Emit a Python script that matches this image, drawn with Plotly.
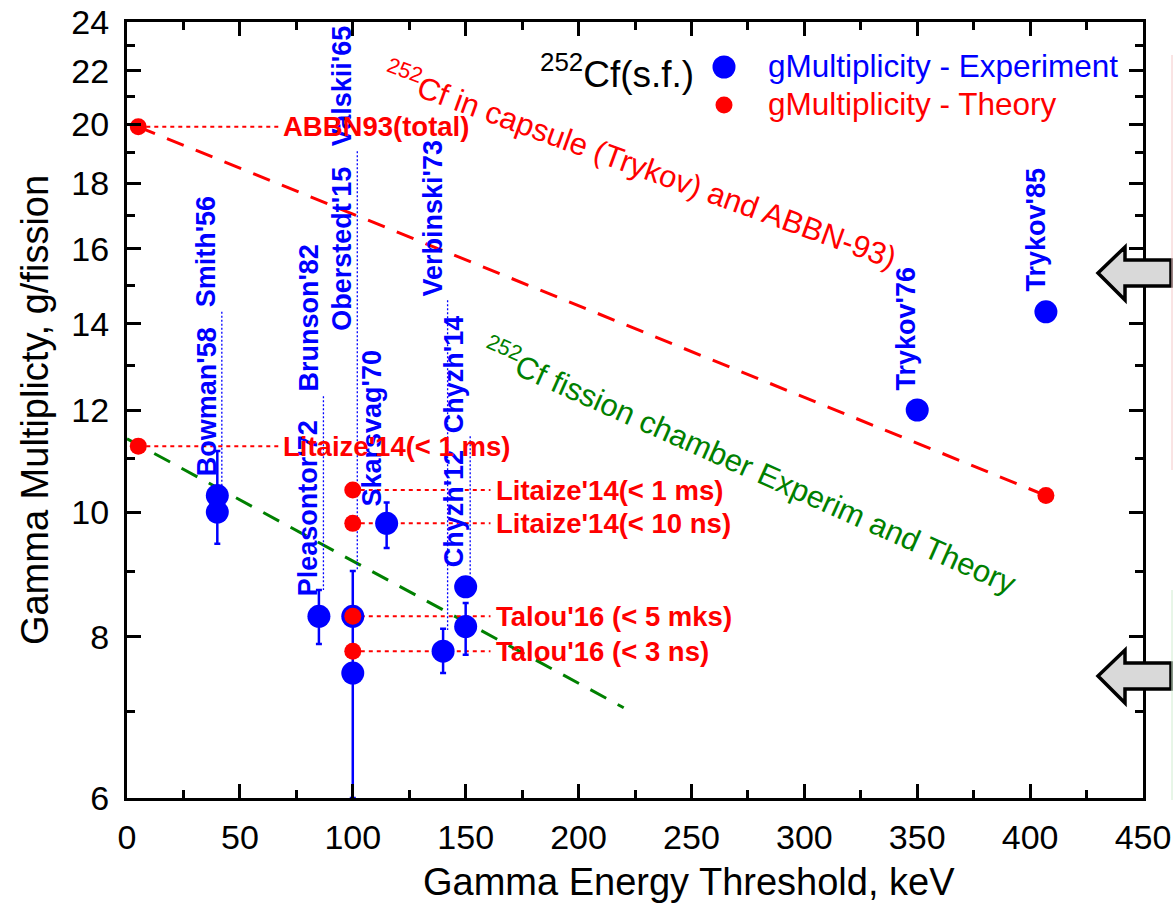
import math
import plotly.graph_objects as go

# ---------------- data ----------------
exp_x = [40, 40, 85, 100, 100, 115, 140, 150, 150, 350, 407]
exp_y = [10.3, 10.0, 8.3, 8.3, 7.5, 9.8, 7.8, 8.75, 8.15, 12.0, 14.3]
exp_err_plus = [0.85, 0, 0.4, 0, 1.5, 0.37, 0.32, 0, 0.35, 0, 0]
exp_err_minus = [0.85, 0, 0.4, 0, 1.5, 0.42, 0.30, 0, 0.40, 0, 0]

th_x = [5, 5, 100, 100, 100, 100, 407]
th_y = [19.9, 11.25, 10.4, 9.8, 8.3, 7.8, 10.3]

# trend lines
capsule_x = [5, 407]
capsule_y = [19.9, 10.3]
chamber_x = [0, 220]
chamber_y = [11.4, 7.05]

# leader lines (blue dotted) from labels to points
lead_x = [42, 87, 102, 142, 152]
lead_top = [14.3, 12.3, 19.05, 14.6, 11.45]
lead_bot = [10.3, 8.7, 9.0, 8.1, 8.9]

# red dotted connectors from theory points to their labels
conn_x0 = [5, 5, 100, 100, 100, 100]
conn_x1 = [67, 67, 161, 161, 161, 161]
conn_y = [19.9, 11.25, 10.4, 9.8, 8.3, 7.8]

# blue experiment labels: text, x, bottom value
exp_labels = ["Bowman'58", "Smith'56", "Pleasontor'72", "Brunson'82", "Oberstedt'15",
              "Valskii'65", "Skarsvag'70", "Verbinski'73", "Chyzh'12", "Chyzh'14",
              "Trykov'76", "Trykov'85"]
exp_label_x = [35.4, 35.4, 80.2, 80.2, 95.2, 95.2, 108.5, 135.5, 144.8, 144.8, 345, 402.6]
exp_label_y = [10.65, 14.4, 8.59, 12.37, 13.8, 19.2, 10.09, 14.68, 9.05, 11.5, 12.4, 14.8]

# red theory labels: text, x (left), y (center)
th_labels = ["ABBN93(total)", "Litaize'14(< 1 ms)", "Litaize'14(< 1 ms)",
             "Litaize'14(< 10 ns)", "Talou'16 (< 5 mks)", "Talou'16 (< 3 ns)"]
th_label_x = [68.6, 68.6, 163, 163, 163, 163]
th_label_y = [19.9, 11.25, 10.4, 9.8, 8.3, 7.8]

x_ticks = [0, 50, 100, 150, 200, 250, 300, 350, 400, 450]
x_minor = [25, 75, 125, 175, 225, 275, 325, 375, 425]
y_ticks = [6, 8, 10, 12, 14, 16, 18, 20, 22, 24]
y_minor = [7, 9, 11, 13, 15, 17, 19, 21, 23]

FONT = "Liberation Sans, Arial, sans-serif"
BLUE = "#0000ff"
RED = "#ff0000"
GREEN = "#008000"

# plot-area geometry in pixels (for decorations)
W, H = 1173, 904
ML, MR, MT, MB = 127, 30, 22, 106
PW, PH = W - ML - MR, H - MT - MB


def px(xp):
    return (xp - ML) / PW


def py(yp):
    return (H - MB - yp) / PH


fig = go.Figure()

# trend lines
fig.add_trace(go.Scatter(x=chamber_x, y=chamber_y, mode="lines",
                         line=dict(color=GREEN, width=3, dash="18px,13px"),
                         hoverinfo="skip", showlegend=False))
fig.add_trace(go.Scatter(x=capsule_x, y=capsule_y, mode="lines",
                         line=dict(color=RED, width=3, dash="18px,13px"),
                         hoverinfo="skip", showlegend=False))

# leader lines
lx, ly = [], []
for x, a, b in zip(lead_x, lead_top, lead_bot):
    lx += [x, x, None]
    ly += [a, b, None]
fig.add_trace(go.Scatter(x=lx, y=ly, mode="lines",
                         line=dict(color=BLUE, width=1.3, dash="2px,2px"),
                         hoverinfo="skip", showlegend=False))

cx, cy = [], []
for a, b, y in zip(conn_x0, conn_x1, conn_y):
    cx += [a, b, None]
    cy += [y, y, None]
fig.add_trace(go.Scatter(x=cx, y=cy, mode="lines",
                         line=dict(color=RED, width=2, dash="4px,4px"),
                         hoverinfo="skip", showlegend=False))

# experiment
fig.add_trace(go.Scatter(
    x=exp_x, y=exp_y, mode="markers",
    marker=dict(color=BLUE, size=23, line=dict(width=0)),
    error_y=dict(type="data", symmetric=False, array=exp_err_plus,
                 arrayminus=exp_err_minus, color=BLUE, thickness=2.5, width=3),
    name="gMultiplicity - Experiment", showlegend=False))

# theory
fig.add_trace(go.Scatter(
    x=th_x, y=th_y, mode="markers",
    marker=dict(color=RED, size=17, line=dict(width=0)),
    name="gMultiplicity - Theory", showlegend=False))

ann = []
for t, x, y in zip(exp_labels, exp_label_x, exp_label_y):
    ann.append(dict(text=f"<b>{t}</b>", x=x, y=math.log10(y), xref="x", yref="y",
                    textangle=-90, xanchor="center", yanchor="bottom",
                    showarrow=False, font=dict(family=FONT, size=27, color=BLUE),
                    borderpad=0))
for t, x, y in zip(th_labels, th_label_x, th_label_y):
    ann.append(dict(text=f"<b>{t}</b>", x=x, y=math.log10(y), xref="x", yref="y",
                    xanchor="left", yanchor="middle", showarrow=False,
                    font=dict(family=FONT, size=27.5, color=RED), borderpad=0))

ann.append(dict(text="<sup>252</sup>Cf in capsule (Trykov) and ABBN-93)",
                x=227.6, y=math.log10(18.62), xref="x", yref="y", textangle=20,
                showarrow=False, font=dict(family=FONT, size=31, color=RED)))
ann.append(dict(text="<sup>252</sup>Cf fission chamber Experim and Theory",
                x=276, y=math.log10(10.88), xref="x", yref="y", textangle=24,
                showarrow=False, font=dict(family=FONT, size=31, color=GREEN)))

# title-ish label and manual legend
ann.append(dict(text="<sup>252</sup>Cf(s.f.)", x=px(617), y=py(71), xref="paper", yref="paper",
                xanchor="center", yanchor="middle", showarrow=False,
                font=dict(family=FONT, size=37, color="black")))
ann.append(dict(text="gMultiplicity - Experiment", x=px(766), y=py(66), xref="paper",
                yref="paper", xanchor="left", yanchor="middle", showarrow=False,
                font=dict(family=FONT, size=31.5, color=BLUE)))
ann.append(dict(text="gMultiplicity - Theory", x=px(766), y=py(104), xref="paper",
                yref="paper", xanchor="left", yanchor="middle", showarrow=False,
                font=dict(family=FONT, size=31.5, color=RED)))

# x-axis title (offset to the right of the plot centre, as in the original)
ann.append(dict(text="Gamma Energy Threshold, keV", x=px(689), y=py(882),
                xref="paper", yref="paper", xanchor="center", yanchor="middle",
                showarrow=False, font=dict(family=FONT, size=38, color="black")))

shapes = []
# legend symbols
shapes.append(dict(type="circle", xref="paper", yref="paper", xsizemode="pixel",
                   ysizemode="pixel", xanchor=px(724), yanchor=py(67),
                   x0=-11.5, x1=11.5, y0=-11.5, y1=11.5,
                   fillcolor=BLUE, line=dict(width=0)))
shapes.append(dict(type="circle", xref="paper", yref="paper", xsizemode="pixel",
                   ysizemode="pixel", xanchor=px(724), yanchor=py(105),
                   x0=-8.5, x1=8.5, y0=-8.5, y1=8.5,
                   fillcolor=RED, line=dict(width=0)))


def arrow(yc):
    pts = [(1098, yc), (1125, yc - 26), (1125, yc - 13), (1171, yc - 13),
           (1171, yc + 13), (1125, yc + 13), (1125, yc + 27)]
    d = "M " + " L ".join(f"{px(a):.5f},{py(b):.5f}" for a, b in pts) + " Z"
    return dict(type="path", xref="paper", yref="paper", path=d,
                fillcolor="#d9d9d9", line=dict(color="black", width=3.5))


shapes.append(arrow(273))
shapes.append(arrow(676))
# faint edges of a neighbouring panel
shapes.append(dict(type="line", xref="paper", yref="paper", x0=px(1172), x1=px(1172),
                   y0=py(55), y1=py(470), line=dict(color="#f4c8c8", width=1)))
shapes.append(dict(type="line", xref="paper", yref="paper", x0=px(1172), x1=px(1172),
                   y0=py(590), y1=py(800), line=dict(color="#d0ecd0", width=1)))

axis_common = dict(showline=True, linewidth=3, linecolor="black", mirror="allticks",
                   ticks="inside", ticklen=14, tickwidth=2.5, tickcolor="black",
                   showgrid=False, zeroline=False, automargin=False,
                   tickfont=dict(family=FONT, size=34, color="black"))

fig.update_layout(
    width=W, height=H,
    margin=dict(l=ML, r=MR, t=MT, b=MB),
    plot_bgcolor="white", paper_bgcolor="white",
    showlegend=False,
    annotations=ann, shapes=shapes,
    xaxis=dict(range=[0, 450], tickvals=x_ticks, ticktext=[str(v) for v in x_ticks],
               minor=dict(tickvals=x_minor, ticks="inside", ticklen=8, tickwidth=2.5,
                          tickcolor="black", showgrid=False),
               ticklabelstandoff=7,
               **axis_common),
    yaxis=dict(type="log", range=[math.log10(6), math.log10(24)],
               tickvals=y_ticks, ticktext=[str(v) for v in y_ticks],
               minor=dict(tickvals=y_minor, ticks="inside", ticklen=8, tickwidth=2.5,
                          tickcolor="black", showgrid=False),
               ticklabelstandoff=8,
               title=dict(text="Gamma Multiplicty, g/fission",
                          font=dict(family=FONT, size=38, color="black"), standoff=12),
               **axis_common),
)

fig.write_html("out.html")
